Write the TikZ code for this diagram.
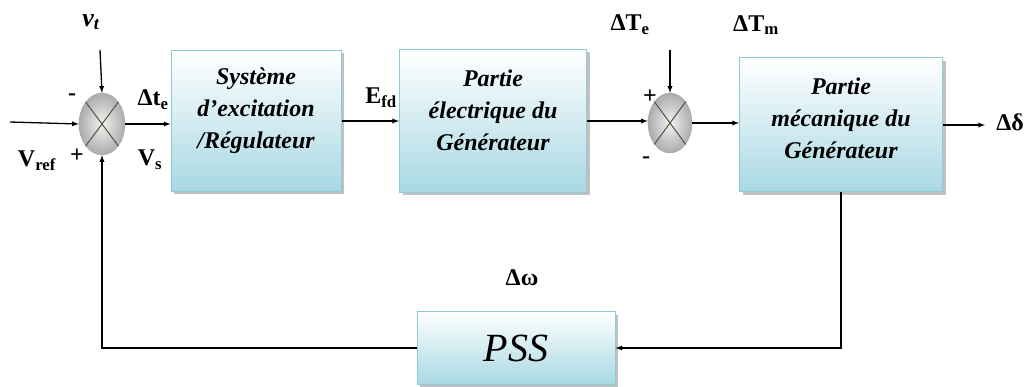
\documentclass[tikz,border=0pt]{standalone}
\usepackage{fontspec}
\setmainfont{Liberation Serif}
\usetikzlibrary{shapes.geometric,shadows}

\definecolor{boxedge}{HTML}{8FCAD7}
\definecolor{boxbottom}{HTML}{A8D8E3}
\definecolor{crossline}{HTML}{4B5A3C}

\tikzset{
    blockbox/.style={draw=boxedge, line width=1pt, top color=white, bottom color=boxbottom,
        drop shadow={shadow xshift=3pt, shadow yshift=-3pt, fill=gray!60, opacity=0.8}},
    blocktext/.style={align=center, font=\fontsize{24}{32}\selectfont\bfseries\itshape},
    sumnode/.style={ellipse, draw=gray!70, inner color=gray!10, outer color=gray!65,
        inner sep=0pt},
    sig/.style={line width=1.3pt, -latex},
    siglab/.style={font=\fontsize{24}{26}\selectfont\bfseries, inner sep=1pt},
}

\begin{document}
\begin{tikzpicture}[x=1pt, y=-1pt]
    \useasboundingbox (0,0) rectangle (1032,387);

    % Summing junctions
    \node[sumnode, minimum width=46pt, minimum height=62pt] (sumA) at (102,124) {};
    \draw[crossline, line width=1pt] (sumA.north east) -- (sumA.south west);
    \draw[crossline, line width=1pt] (sumA.north west) -- (sumA.south east);

    \node[sumnode, minimum width=44pt, minimum height=60pt] (sumB) at (670,123) {};
    \draw[crossline, line width=1pt] (sumB.north east) -- (sumB.south west);
    \draw[crossline, line width=1pt] (sumB.north west) -- (sumB.south east);

    % Blocks
    \node[blockbox, minimum width=170pt, minimum height=141pt] (excit) at (256,121) {};
    \node[blocktext] (excittxt) at ([yshift=10pt]excit.center)
        {Système\\d’excitation\\/Régulateur};
    \node[blockbox, minimum width=187pt, minimum height=143pt] (elec) at (493,121) {};
    \node[blocktext] (electxt) at ([yshift=11pt]elec.center)
        {Partie\\électrique du\\Générateur};
    \node[blockbox, minimum width=203pt, minimum height=134pt] (mech) at (841,125) {};
    \node[blocktext] (mechtxt) at ([yshift=7pt]mech.center)
        {Partie\\mécanique du\\Générateur};
    \node[blockbox, minimum width=198pt, minimum height=73pt,
          font=\fontsize{40}{44}\selectfont\itshape] (pss) at (516,348) {PSS};

    % Free ends
    \coordinate (vref) at (10,122);
    \coordinate (vt) at (100,50);
    \coordinate (te) at (670,50);
    \coordinate (delta) at (985,125);

    % Connectors
    \draw[sig] (vref) -- (sumA.west);
    \draw[sig] (vt) -- (sumA.north);
    \draw[sig] (sumA.east) -- (sumA.east -| excit.west);
    \draw[sig] (excit.east) -- (elec.west);
    \draw[sig] (elec.east) -- (elec.east -| sumB.west);
    \draw[sig] (te) -- (sumB.north);
    \draw[sig] (sumB.east) -- (sumB.east -| mech.west);
    \draw[sig] (mech.east) -- (delta);
    \draw[sig] (mech.south) |- (pss.east);
    \draw[sig] (pss.west) -| (sumA.south);

    % Signal labels
    \node[siglab, font=\fontsize{26}{28}\selectfont\bfseries\itshape] (vtlab) at (91,22) {v\textsubscript{t}};
    \node[siglab] (minusA) at (72,97) {-};
    \node[siglab] (plusA) at (77,156) {+};
    \node[siglab] (vreflab) at (37,161) {V\textsubscript{ref}};
    \node[siglab] (vslab) at (150,160) {V\textsubscript{s}};
    \node[siglab] (dtelab) at (153,100) {Δt\textsubscript{e}};
    \node[siglab] (efdlab) at (381,98) {E\textsubscript{fd}};
    \node[siglab] (dTelab) at (630,25) {ΔT\textsubscript{e}};
    \node[siglab] (dTmlab) at (756,25) {ΔT\textsubscript{m}};
    \node[siglab] (plusB) at (650,97) {+};
    \node[siglab] (minusB) at (646,160) {-};
    \node[siglab] (ddlab) at (1010,122) {Δδ};
    \node[siglab] (dwlab) at (522,278) {Δω};
\end{tikzpicture}
\end{document}
